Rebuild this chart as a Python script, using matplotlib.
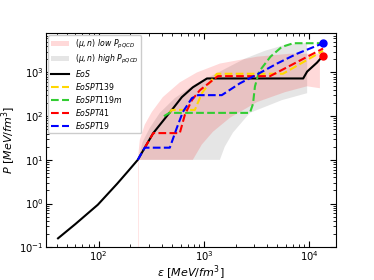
import matplotlib
matplotlib.use("Agg")
import matplotlib.pyplot as plt

# ----------------------------
# Dados
# ----------------------------
# EoS base (linha preta)
eos_eps = [41, 60, 98, 150, 190, 235, 274, 330, 470, 496, 617, 785, 1070, 8800, 9600, 11900, 13600]
eos_p = [0.16, 0.34, 0.94, 2.86, 5.5, 10, 19, 41, 119, 139, 273, 458, 730, 730, 1050, 1680, 2420]

# EoS com transição de fase
pt139_eps = [470, 496, 820, 957, 1140, 1330, 5650, 13600]
pt139_p = [119, 139, 139, 336, 594, 935, 935, 3140]

pt119_eps = [417, 470, 2740, 2930, 3060, 3350, 4300, 5500, 7100, 13600]
pt119_p = [100, 119, 119, 190, 480, 1050, 2300, 3850, 4680, 4680]

pt41_eps = [274, 330, 590, 659, 769, 916, 1140, 1360, 4260, 13600]
pt41_p = [19, 41, 41, 107, 233, 393, 594, 825, 825, 3540]

pt19_eps = [235, 274, 474, 553, 631, 769, 877, 1480, 2200, 3200, 4960, 7690, 13600]
pt19_p = [10, 19, 19, 54, 125, 259, 303, 303, 565, 900, 1600, 2690, 4680]

# pontos finais (massa máxima)
tov_eps = [13600, 13600]
tov_p = [2420, 4680]
tov_cores = ["red", "blue"]

# regiões permitidas pelo pQCD
low_eps = [235, 246, 274, 320, 407, 590, 857, 1420, 3200, 6600, 12700,
           12700, 9570, 5900, 3200, 1770, 1220, 957, 785]
low_p = [10, 29, 64, 125, 273, 594, 1000, 1600, 2300, 2690, 2690,
         436, 483, 354, 210, 92, 44, 22.5, 10]

high_eps = [235, 262, 306, 381, 529, 820, 1420, 2450, 3810, 5900, 9600,
            9600, 5530, 2740, 1890, 1580, 1420]
high_p = [10, 26, 54, 119, 259, 536, 1050, 2070, 3140, 4290, 4750,
          336, 233, 119, 42, 20, 10]

# ----------------------------
# Figura
# ----------------------------
fig = plt.figure(figsize=(3.74, 2.8), dpi=100)
ax = fig.add_axes([0.123, 0.117, 0.775, 0.765])

# cinza por baixo, rosa por cima (ordem da legenda mantida)
ax.fill(low_eps, low_p, color="red", alpha=0.15, lw=0, zorder=1.2,
        label=r"$(\mu,n)$ $low$ $P_{pQCD}$")
ax.fill(high_eps, high_p, color="grey", alpha=0.2, lw=0, zorder=1.1,
        label=r"$(\mu,n)$ $high$ $P_{pQCD}$")
ax.plot([low_eps[0], low_eps[0]], [0.1, low_p[0]], color="red", alpha=0.12, lw=0.6)

ax.plot(eos_eps, eos_p, color="black", lw=1.5, label=r"$EoS$")
ax.plot(pt139_eps, pt139_p, color="gold", ls="--", lw=1.5, label=r"$EoSPT139$")
ax.plot(pt119_eps, pt119_p, color="limegreen", ls="--", lw=1.5, label=r"$EoSPT119m$")
ax.plot(pt41_eps, pt41_p, color="red", ls="--", lw=1.5, label=r"$EoSPT41$")
ax.plot(pt19_eps, pt19_p, color="blue", ls="--", lw=1.5, label=r"$EoSPT19$")

for e, p, c in zip(tov_eps, tov_p, tov_cores):
    ax.plot(e, p, "o", color=c, ms=5, zorder=5)

ax.set_xscale("log")
ax.set_yscale("log")
ax.set_xlim(31.5, 18000)
ax.set_ylim(0.1, 8000)

ax.tick_params(which="both", direction="in", top=True, right=True, labelsize=7.2, pad=1.5)
ax.tick_params(which="major", length=4)
ax.tick_params(which="minor", length=2)

ax.set_xlabel(r"$\epsilon$ $[MeV/fm^3]$", fontsize=8, labelpad=0)
ax.set_ylabel(r"$P$ $[MeV/fm^3]$", fontsize=8, labelpad=1)

ax.legend(loc="upper left", fontsize=5.6, borderaxespad=0.25, handlelength=2.3,
          labelspacing=0.25, borderpad=0.35, framealpha=1)

fig.savefig("out.png", dpi=100)
